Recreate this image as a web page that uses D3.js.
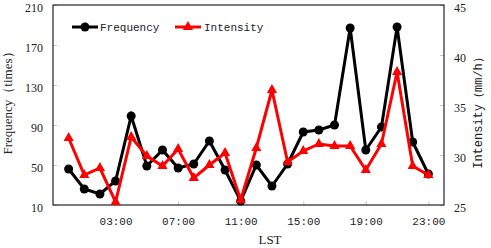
<!DOCTYPE html>
<html>
<head>
<meta charset="utf-8">
<script src="https://cdn.jsdelivr.net/npm/d3@7"></script>
<style>
  body { margin: 0; background: #fff; }
  svg { display: block; }
</style>
</head>
<body>
<svg id="chart"></svg>
<script>
const hours = d3.range(0, 24);
const frequency = [46, 26, 21, 34, 99, 49, 65, 47, 51, 74, 45, 14,
                   50, 29, 51, 83, 85, 90, 187, 65, 88, 188, 73, 41];
const intensity = [31.7, 28.0, 28.7, 25.3, 31.8, 29.9, 28.9, 30.6, 27.7, 29.0, 30.2, 25.5,
                   30.7, 36.5, 29.3, 30.4, 31.1, 30.9, 30.9, 28.5, 31.1, 38.3, 28.9, 28.0];
const xTicks = [3, 7, 11, 15, 19, 23];
const freqTicks = [10, 50, 90, 130, 170, 210];
const intTicks = [25, 30, 35, 40, 45];

const W = 491, H = 248;
const margin = {top: 5, right: 47, bottom: 43, left: 53};
const width = W - margin.left - margin.right;
const height = H - margin.top - margin.bottom;

const svg = d3.select("#chart").attr("width", W).attr("height", H);
const g = svg.append("g").attr("transform", "translate(" + margin.left + "," + margin.top + ")");

const x = d3.scaleLinear().domain([-1, 24]).range([0, width]);
const yL = d3.scaleLinear().domain([10, 210]).range([height, 0]);
const yR = d3.scaleLinear().domain([25, 45]).range([height, 0]);

const serif = "'Liberation Serif', 'Times New Roman', serif";
const mono = "'Liberation Mono', 'Courier New', monospace";

// axes (ticks point inward)
const xAxis = g.append("g").attr("transform", "translate(0," + height + ")")
    .call(d3.axisBottom(x).tickValues(xTicks).tickSizeInner(-4).tickSizeOuter(0).tickPadding(12)
        .tickFormat(d => String(d).padStart(2, "0") + ":00"));
xAxis.selectAll("text").style("font-family", mono).style("font-size", "11px");

const yAxisL = g.append("g")
    .call(d3.axisLeft(yL).tickValues(freqTicks).tickSizeInner(-4).tickSizeOuter(0).tickPadding(10));
yAxisL.selectAll("text").style("font-family", serif).style("font-size", "12px").attr("dy", "0.5em");

const yAxisR = g.append("g").attr("transform", "translate(" + width + ",0)")
    .call(d3.axisRight(yR).tickValues(intTicks).tickSizeInner(-4).tickSizeOuter(0).tickPadding(10));
yAxisR.selectAll("text").style("font-family", serif).style("font-size", "12px").attr("dy", "0.5em");

g.selectAll(".domain").remove();
g.selectAll(".tick line").attr("stroke", "#bbb").attr("stroke-width", 0.8);
g.selectAll(".tick text").attr("fill", "#222");

g.append("rect").attr("width", width).attr("height", height)
    .attr("fill", "none").attr("stroke", "#222").attr("stroke-width", 1.2);

// series
const lineF = d3.line().x((d, i) => x(hours[i])).y(d => yL(d));
const lineI = d3.line().x((d, i) => x(hours[i])).y(d => yR(d));

g.append("path").datum(frequency).attr("d", lineF)
    .attr("fill", "none").attr("stroke", "#000").attr("stroke-width", 3);
g.selectAll(".dotF").data(frequency).enter().append("circle")
    .attr("cx", (d, i) => x(hours[i])).attr("cy", d => yL(d)).attr("r", 4.5).attr("fill", "#000");

const tri = d3.symbol().type(d3.symbolTriangle).size(45);
g.append("path").datum(intensity).attr("d", lineI)
    .attr("fill", "none").attr("stroke", "#f00").attr("stroke-width", 3);
g.selectAll(".triI").data(intensity).enter().append("path")
    .attr("transform", (d, i) => "translate(" + x(hours[i]) + "," + yR(d) + ")")
    .attr("d", tri).attr("fill", "#f00");

// legend
const leg = g.append("g").attr("transform", "translate(0,22)");
leg.append("line").attr("x1", 19).attr("x2", 45).attr("stroke", "#000").attr("stroke-width", 3);
leg.append("circle").attr("cx", 32).attr("r", 4.5).attr("fill", "#000");
leg.append("text").attr("x", 47).attr("dy", "0.35em").text("Frequency")
    .style("font-family", mono).style("font-size", "11px").attr("fill", "#222");
leg.append("line").attr("x1", 122).attr("x2", 148).attr("stroke", "#f00").attr("stroke-width", 3);
leg.append("path").attr("transform", "translate(135,0)").attr("d", tri).attr("fill", "#f00");
leg.append("text").attr("x", 151).attr("dy", "0.35em").text("Intensity")
    .style("font-family", mono).style("font-size", "11px").attr("fill", "#222");

// axis titles
svg.append("text").attr("transform", "translate(12,100) rotate(-90)")
    .attr("text-anchor", "middle").text("Frequency（times）")
    .style("font-family", serif).style("font-size", "13px").attr("fill", "#222");
svg.append("text").attr("transform", "translate(482,110) rotate(-90)")
    .attr("text-anchor", "middle").text("Intensity（mm/h）")
    .style("font-family", mono).style("font-size", "12px").attr("fill", "#222");
svg.append("text").attr("x", 270).attr("y", 244)
    .attr("text-anchor", "middle").text("LST")
    .style("font-family", serif).style("font-size", "13px").attr("fill", "#222");
</script>
</body>
</html>
